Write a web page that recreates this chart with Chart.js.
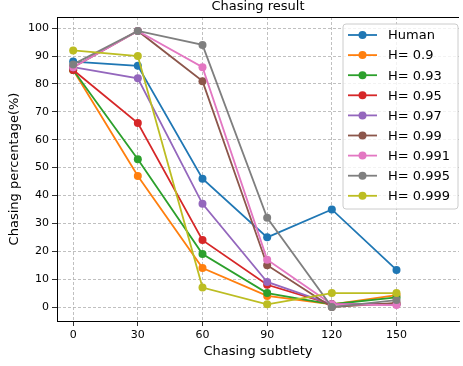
<!DOCTYPE html>
<html>
<head>
<meta charset="utf-8">
<script src="https://cdn.jsdelivr.net/npm/chart.js@4.4.0/dist/chart.umd.min.js"></script>
<style>
  html, body { margin: 0; padding: 0; background: #fff; }
  #wrap { width: 463px; height: 366px; position: relative; }
</style>
</head>
<body>
<div id="wrap"><canvas id="chart"></canvas></div>
<script>
// Chart data
const subtlety = [0, 30, 60, 90, 120, 150];
const yTicks = [0, 10, 20, 30, 40, 50, 60, 70, 80, 90, 100];
const seriesNames = ['Human', 'H= 0.9', 'H= 0.93', 'H= 0.95', 'H= 0.97', 'H= 0.99', 'H= 0.991', 'H= 0.995', 'H= 0.999'];
const human = [88, 86.5, 46, 25, 35, 13.3];
const h090 = [85, 47, 14, 4, 1, 4.3];
const h093 = [85, 53, 19, 5, 1, 3.5];
const h095 = [85, 66, 24, 8, 1, 1];
const h097 = [86, 82, 37, 9, 1, 1];
const h099 = [86, 99, 81, 15, 0, 1.5];
const h0991 = [86, 99, 86, 17, 1, 0.7];
const h0995 = [87, 99, 94, 32, 0, 2.5];
const h0999 = [92, 90, 7, 1, 5, 5];
const seriesValues = [human, h090, h093, h095, h097, h099, h0991, h0995, h0999];
const colors = ['#1f77b4', '#ff7f0e', '#2ca02c', '#d62728', '#9467bd', '#8c564b', '#e377c2', '#7f7f7f', '#bcbd22'];

const FONT = 'DejaVu Sans';

const datasets = seriesValues.map((vals, i) => ({
    label: seriesNames[i],
    data: vals.map((v, j) => ({ x: subtlety[j], y: v })),
    borderColor: colors[i],
    backgroundColor: colors[i],
    borderWidth: 1.8,
    pointRadius: 4,
    pointBorderWidth: 0,
    pointHoverRadius: 4,
    tension: 0,
    order: seriesValues.length - i
}));

// title, top spine and legend box drawn by hand (matplotlib look)
const extrasPlugin = {
    id: 'extras',
    afterDraw(chart) {
        const ctx = chart.ctx;
        const area = chart.chartArea;
        ctx.save();
        // top spine
        ctx.strokeStyle = '#000';
        ctx.lineWidth = 1;
        ctx.beginPath();
        ctx.moveTo(area.left, area.top + 0.5);
        ctx.lineTo(area.right, area.top + 0.5);
        ctx.stroke();
        // title
        ctx.fillStyle = '#000';
        ctx.font = '13px ' + FONT;
        ctx.textAlign = 'center';
        ctx.textBaseline = 'alphabetic';
        ctx.fillText('Chasing result', (area.left + area.right) / 2, 10);
        // legend
        const bx = 343, by = 24, bw = 115, bh = 185, r = 3;
        ctx.beginPath();
        ctx.moveTo(bx + r, by);
        ctx.arcTo(bx + bw, by, bx + bw, by + bh, r);
        ctx.arcTo(bx + bw, by + bh, bx, by + bh, r);
        ctx.arcTo(bx, by + bh, bx, by, r);
        ctx.arcTo(bx, by, bx + bw, by, r);
        ctx.closePath();
        ctx.fillStyle = 'rgba(255,255,255,0.8)';
        ctx.fill();
        ctx.strokeStyle = '#cccccc';
        ctx.lineWidth = 1;
        ctx.stroke();
        ctx.textAlign = 'left';
        ctx.textBaseline = 'middle';
        ctx.font = '13px ' + FONT;
        seriesNames.forEach((name, i) => {
            const y = 35 + i * 20.1;
            ctx.strokeStyle = colors[i];
            ctx.lineWidth = 1.8;
            ctx.beginPath();
            ctx.moveTo(348, y);
            ctx.lineTo(377, y);
            ctx.stroke();
            ctx.fillStyle = colors[i];
            ctx.beginPath();
            ctx.arc(362.5, y, 4, 0, Math.PI * 2);
            ctx.fill();
            ctx.fillStyle = '#000';
            ctx.fillText(name, 388, y + 1);
        });
        ctx.restore();
    }
};

const gridStyle = {
    color: '#b0b0b0',
    lineWidth: 0.8,
    tickColor: '#000',
    tickBorderDash: [],
    tickLength: 5,
    drawTicks: true
};
const borderStyle = { display: true, color: '#000', width: 1, dash: [3, 2] };

const chart = new Chart(document.getElementById('chart'), {
    type: 'line',
    data: { datasets: datasets },
    options: {
        responsive: true,
        maintainAspectRatio: false,
        animation: false,
        layout: { padding: { top: 17, right: 0, left: 0, bottom: 0 } },
        plugins: {
            legend: { display: false },
            tooltip: { enabled: false }
        },
        scales: {
            x: {
                type: 'linear',
                min: -7.5,
                max: 179,
                grid: gridStyle,
                border: borderStyle,
                ticks: { color: '#000', font: { family: FONT, size: 11 }, padding: 3, maxRotation: 0 },
                afterBuildTicks: (scale) => { scale.ticks = subtlety.map(v => ({ value: v })); },
                afterFit: (scale) => { scale.height = 45; },
                title: {
                    display: true,
                    text: 'Chasing subtlety',
                    color: '#000',
                    font: { family: FONT, size: 13 },
                    padding: { top: 0, bottom: 7 }
                }
            },
            y: {
                type: 'linear',
                min: -5,
                max: 104,
                grid: gridStyle,
                border: borderStyle,
                ticks: { color: '#000', font: { family: FONT, size: 11 }, padding: 3 },
                afterBuildTicks: (scale) => { scale.ticks = yTicks.map(v => ({ value: v })); },
                afterFit: (scale) => { scale.width = 57; },
                title: {
                    display: true,
                    text: 'Chasing percentage(%)',
                    color: '#000',
                    font: { family: FONT, size: 13 },
                    padding: { top: 7, bottom: 0 }
                }
            }
        }
    },
    plugins: [extrasPlugin]
});
</script>
</body>
</html>
